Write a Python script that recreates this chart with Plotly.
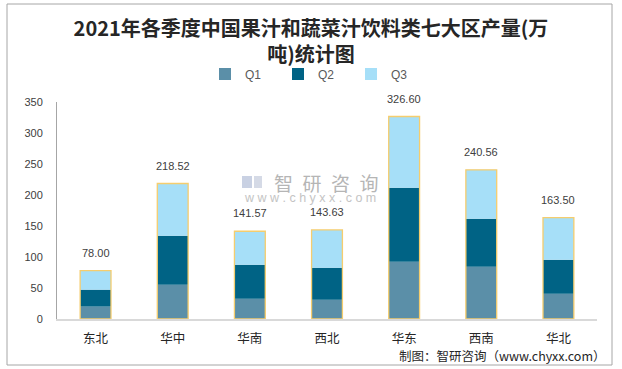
import plotly.graph_objects as go

categories = ["东北", "华中", "华南", "西北", "华东", "西南", "华北"]
q1 = [20.0, 55.4, 32.8, 31.2, 92.5, 84.4, 40.9]
q2 = [27.3, 79.0, 54.8, 51.6, 119.3, 77.4, 54.8]
q3 = [30.7, 84.12, 53.97, 60.83, 114.8, 78.76, 67.8]
series_names = ["Q1", "Q2", "Q3"]
colors = ["#5B8FA8", "#006385", "#A6DFF8"]
y_ticks = [0, 50, 100, 150, 200, 250, 300, 350]

totals = [a + b + c for a, b, c in zip(q1, q2, q3)]
base2 = q1[:]
base3 = [a + b for a, b in zip(q1, q2)]

W, H = 622, 369
L, R, T, B = 57, 25, 102, 50

fig = go.Figure()
for name, vals, base, col in zip(series_names, [q1, q2, q3], [None, base2, base3], colors):
    fig.add_trace(go.Bar(
        x=categories, y=vals, base=base, name=name,
        marker=dict(color=col, line=dict(width=0)),
        width=0.4,
    ))
# outline around full stack
fig.add_trace(go.Bar(
    x=categories, y=totals, base=[0] * len(totals), showlegend=False,
    marker=dict(color="rgba(0,0,0,0)", line=dict(color="#F5CD6E", width=1.3)),
    width=0.4, hoverinfo="skip",
))

for c, t in zip(categories, totals):
    fig.add_annotation(x=c, y=t, text=f"{t:.2f}", showarrow=False,
                       yanchor="bottom", yshift=10,
                       font=dict(family="Liberation Sans", size=11, color="#404040"))

pw = W - L - R
ph = H - T - B
def px(x):
    return (x - L) / pw
def py(y):
    return 1 - (y - T) / ph

# watermark
fig.add_annotation(xref="paper", yref="paper", x=px(326), y=py(182), xanchor="center", yanchor="middle",
                   text="智\u2002研\u2002咨\u2002询", showarrow=False,
                   font=dict(family="Noto Sans CJK SC", size=19, color="#B5B5B5"))
fig.add_annotation(xref="paper", yref="paper", x=px(310), y=py(198), xanchor="center", yanchor="middle",
                   text="w w w . c h y x x . c o m", showarrow=False,
                   font=dict(family="Liberation Sans", size=12.5, color="#C4C4C4"))
fig.add_shape(type="rect", xref="paper", yref="paper", x0=px(242), x1=px(252), y0=py(176), y1=py(188),
              fillcolor="#C9D1E3", line=dict(width=0), layer="above")
fig.add_shape(type="rect", xref="paper", yref="paper", x0=px(254), x1=px(262), y0=py(176), y1=py(188),
              fillcolor="#D5DAE6", line=dict(width=0), layer="above")

# footer
fig.add_annotation(xref="paper", yref="paper", x=px(608), y=py(355), xanchor="right", yanchor="middle",
                   text="制图：智研咨询（www.chyxx.com）", showarrow=False,
                   font=dict(family="Noto Sans CJK SC", size=12.5, color="#262626"))

# outer border
fig.add_shape(type="rect", xref="paper", yref="paper", x0=px(7), x1=px(612), y0=py(4), y1=py(365),
              line=dict(color="#A6A6A6", width=1), layer="below")

fig.update_layout(
    width=W, height=H,
    margin=dict(l=L, r=R, t=T, b=B, autoexpand=False),
    paper_bgcolor="white", plot_bgcolor="white",
    barmode="overlay",
    title=dict(text="2021年各季度中国果汁和蔬菜汁饮料类七大区产量(万<br>吨)统计图",
               x=0.5, xanchor="center", xref="container",
               y=1 - 36 / H, yanchor="top", yref="container",
               font=dict(family="Noto Sans CJK SC", size=20, color="#262626", weight="bold")),
    legend=dict(orientation="h", xref="container", yref="container",
                x=205 / W, xanchor="left", y=1 - 74 / H, yanchor="middle",
                font=dict(family="Liberation Sans", size=12, color="#595959"),
                entrywidth=28, bgcolor="rgba(0,0,0,0)"),
    xaxis=dict(showline=True, linecolor="#D9D9D9", linewidth=1.5, ticks="",
               tickfont=dict(family="Noto Sans CJK SC", size=12.5, color="#262626"),
               showgrid=False, zeroline=False, automargin=False, ticklabelstandoff=7),
    yaxis=dict(range=[0, 350], tickvals=y_ticks, showline=True, linecolor="#A6A6A6", linewidth=1,
               showgrid=False, zeroline=False, ticks="", ticklabelstandoff=11, automargin=False,
               tickfont=dict(family="Liberation Sans", size=11, color="#404040")),
    showlegend=True,
)

fig.write_html("out.html", config={"displayModeBar": False},
               post_script="document.body.style.margin='0px';document.body.style.overflow='hidden';")
